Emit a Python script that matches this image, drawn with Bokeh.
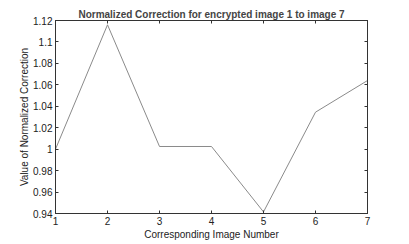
from bokeh.plotting import figure
from bokeh.models import LinearAxis, FixedTicker, Range1d, Title, CustomJSTickFormatter
from bokeh.embed import file_html
from bokeh.resources import INLINE

images = [1, 2, 3, 4, 5, 6, 7]
corr = [1.0, 1.116, 1.0025, 1.0025, 0.9415, 1.0345, 1.064]
y_ticks = [0.94, 0.96, 0.98, 1.0, 1.02, 1.04, 1.06, 1.08, 1.1, 1.12]
y_labels = {0.94: "0.94", 0.96: "0.96", 0.98: "0.98", 1.0: "1", 1.02: "1.02",
            1.04: "1.04", 1.06: "1.06", 1.08: "1.08", 1.1: "1.1", 1.12: "1.12"}

FONT = "Liberation Sans"

p = figure(width=409, height=244, output_backend="svg", toolbar_location=None,
           x_range=Range1d(1, 7), y_range=Range1d(0.94, 1.12),
           min_border_left=55, min_border_right=42, min_border_top=20,
           min_border_bottom=31, x_axis_label="Corresponding Image Number",
           y_axis_label="Value of Normalized Correction")

p.title = Title(text="Normalized Correction for encrypted image 1 to image 7",
                align="center", text_font=FONT, text_font_size="10px",
                text_font_style="bold", offset=0, standoff=2)
p.title_location = "above"

p.line(images, corr, line_color="#8a8a8a", line_width=1)

p.xgrid.visible = False
p.ygrid.visible = False
p.outline_line_color = "#333333"
p.outline_line_width = 1
p.background_fill_color = "white"
p.border_fill_color = "white"

for ax in (p.xaxis[0], p.yaxis[0]):
    ax.axis_line_color = "#333333"
    ax.major_tick_in = 3
    ax.major_tick_out = 0
    ax.minor_tick_line_color = None
    ax.major_tick_line_color = "#333333"
    ax.major_label_text_font = FONT
    ax.major_label_text_font_size = "10px"
    ax.major_label_text_color = "#222222"
    ax.axis_label_text_font = FONT
    ax.axis_label_text_font_size = "10px"
    ax.axis_label_text_font_style = "normal"
    ax.axis_label_text_color = "#222222"

p.xaxis[0].ticker = FixedTicker(ticks=images)
p.xaxis[0].major_label_standoff = 3
p.xaxis[0].axis_label_standoff = 1
p.yaxis[0].ticker = FixedTicker(ticks=y_ticks)
p.yaxis[0].major_label_overrides = y_labels
p.yaxis[0].major_label_standoff = 3
p.yaxis[0].axis_label_standoff = 0

blank = CustomJSTickFormatter(code="return '';")
top = LinearAxis(ticker=FixedTicker(ticks=images), major_tick_in=3, major_tick_out=0,
                 minor_tick_line_color=None, formatter=blank,
                 axis_line_color="#333333", major_tick_line_color="#333333",
                 major_label_standoff=0)
right = LinearAxis(ticker=FixedTicker(ticks=y_ticks), major_tick_in=3, major_tick_out=0,
                   minor_tick_line_color=None, formatter=blank,
                   axis_line_color="#333333", major_tick_line_color="#333333",
                   major_label_standoff=0)
p.add_layout(top, "above")
p.add_layout(right, "right")

open("out.html", "w").write(file_html(p, INLINE))
